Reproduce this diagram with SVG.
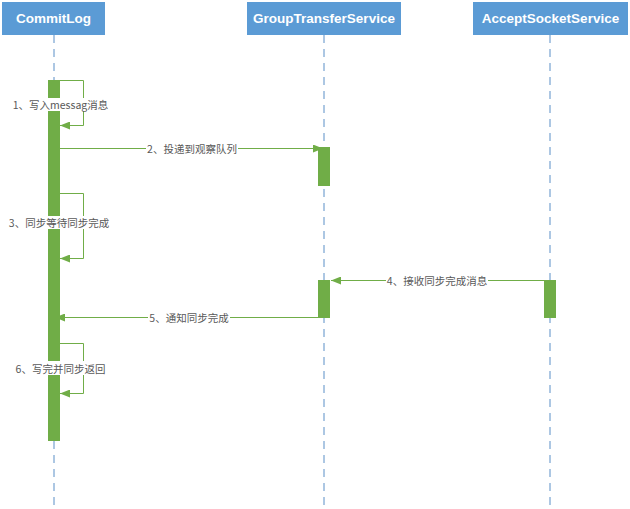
<svg xmlns="http://www.w3.org/2000/svg" width="630" height="509" viewBox="0 0 630 509">
<style>
.hdr{fill:#5b9bd5}
.hdrt{fill:#ffffff;font-family:"Liberation Sans","Noto Sans",sans-serif;font-weight:bold;font-size:13.5px;text-anchor:middle;dominant-baseline:central}
.life{stroke:#5b8fc7;stroke-width:1;stroke-dasharray:8,6;fill:none}
.bar{fill:#70ad47}
.msg{stroke:#70ad47;stroke-width:1;fill:none}
.lbg{fill:#ffffff}
.lbl{fill:#595959;font-family:"Noto Sans CJK SC","Noto Sans",sans-serif;font-size:10.5px;text-anchor:middle;dominant-baseline:central}
</style>
<defs>
<marker id="ah" viewBox="0 0 10 8" refX="10" refY="4" markerWidth="10" markerHeight="8" markerUnits="userSpaceOnUse" orient="auto">
<path d="M0,0 L10,4 L0,8 Z" fill="#70ad47"/>
</marker>
</defs>
<rect width="630" height="509" fill="#ffffff"/>
<g id="lifelines">
<line class="life" x1="54" y1="35" x2="54" y2="509"/>
<line class="life" x1="324" y1="35" x2="324" y2="509"/>
<line class="life" x1="550" y1="35" x2="550" y2="509"/>
</g>
<g id="connectors">
<path class="msg" d="M60,80.5 H83.5 V125.5 H60" marker-end="url(#ah)"/>
<line class="msg" x1="60" y1="148.5" x2="323" y2="148.5" marker-end="url(#ah)"/>
<path class="msg" d="M60,193.5 H83.5 V258.5 H60" marker-end="url(#ah)"/>
<line class="msg" x1="544" y1="280.5" x2="331" y2="280.5" marker-end="url(#ah)"/>
<line class="msg" x1="318" y1="317.5" x2="55" y2="317.5" marker-end="url(#ah)"/>
<path class="msg" d="M60,343.5 H83.5 V393.5 H60" marker-end="url(#ah)"/>
</g>
<g id="CommitLog">
<rect class="hdr" x="2" y="2" width="103" height="33"/>
<text class="hdrt" x="53.5" y="18.5">CommitLog</text>
<rect class="bar" x="48" y="80" width="12" height="361"/>
</g>
<g id="GroupTransferService">
<rect class="hdr" x="247" y="2" width="154" height="33"/>
<text class="hdrt" x="324" y="18.5">GroupTransferService</text>
<rect class="bar" x="318" y="147" width="12" height="39"/>
<rect class="bar" x="318" y="280" width="12" height="38"/>
</g>
<g id="AcceptSocketService">
<rect class="hdr" x="473" y="2" width="155" height="33"/>
<text class="hdrt" x="550.5" y="18.5">AcceptSocketService</text>
<rect class="bar" x="544" y="280" width="12" height="38"/>
</g>
<g id="labels">
<rect class="lbg" x="16" y="98" width="89" height="13"/>
<text class="lbl" x="60.5" y="104">1、写入messag消息</text>
<rect class="lbg" x="146" y="142" width="92" height="13"/>
<text class="lbl" x="192" y="148">2、投递到观察队列</text>
<rect class="lbg" x="9" y="216" width="100" height="13"/>
<text class="lbl" x="59" y="222">3、同步等待同步完成</text>
<rect class="lbg" x="386" y="274" width="102" height="13"/>
<text class="lbl" x="437" y="280">4、接收同步完成消息</text>
<rect class="lbg" x="148" y="311" width="82" height="13"/>
<text class="lbl" x="189" y="317">5、通知同步完成</text>
<rect class="lbg" x="15" y="361" width="91" height="14"/>
<text class="lbl" x="60.5" y="368">6、写完并同步返回</text>
</g>
</svg>
